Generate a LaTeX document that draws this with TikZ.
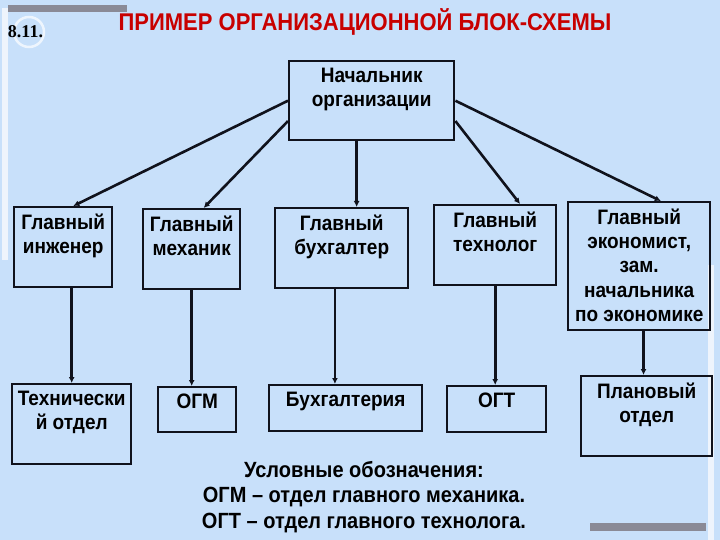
\documentclass[tikz,border=0pt]{standalone}
\usepackage{fontspec}
\setmainfont{Liberation Sans}
\newfontfamily\numfont{Liberation Serif}
\usetikzlibrary{arrows.meta, calc}
\definecolor{ink}{HTML}{10121C}
\definecolor{slide}{HTML}{C8E0FA}
\definecolor{headred}{HTML}{C80000}
\definecolor{bargray}{HTML}{8A8A96}
\definecolor{strip}{HTML}{EEF4FC}

\begin{document}
\begin{tikzpicture}[x=1pt, y=-1pt, font=\bfseries\fontsize{19}{22}\selectfont,
    tall/.style={yscale=1.1, transform shape},
    unit/.style={draw=ink, line width=2.4pt, anchor=north west, inner sep=0pt},
    txt/.style={tall, anchor=north, align=center, inner sep=0pt, yshift=-7pt},
    link/.style={draw=ink, line width=2.6pt, -{Latex[length=6pt,width=6pt]}}]
    \fill[slide](0,0)rectangle(720,540);\useasboundingbox(0,0)rectangle(720,540);
    \fill[strip](2,8)rectangle(8,260);\fill[bargray](8,5)rectangle(127,12);
    \fill[strip](708,265)rectangle(714,540);\fill[bargray](590,523)rectangle(706,531);
    \draw[white,line width=2.5pt,opacity=0.7](29,32)circle[radius=15];
    \node[inner sep=0pt,font=\numfont\bfseries\fontsize{18}{20}\selectfont](num)at(25.5,32){8.11.};
    \node[tall,text=headred,font=\bfseries\fontsize{22}{24}\selectfont](title)at(365,22){ПРИМЕР ОРГАНИЗАЦИОННОЙ БЛОК-СХЕМЫ};

    \node[unit,minimum width=165,minimum height=79,label={[txt]north:{Начальник\\организации}}](boss)at(288,60){};

    \node[unit,minimum width=98,minimum height=80,label={[txt]north:{Главный\\инженер}}](ing)at(13,206){};
    \node[unit,minimum width=97,minimum height=80,label={[txt]north:{Главный\\механик}}](mech)at(142,208){};
    \node[unit,minimum width=133,minimum height=80,label={[txt]north:{Главный\\бухгалтер}}](buh)at(274,207){};
    \node[unit,minimum width=122,minimum height=80,label={[txt]north:{Главный\\технолог}}](teh)at(433,204){};
    \node[unit,minimum width=142,minimum height=128,label={[txt]north:{Главный\\экономист,\\зам.\\начальника\\по экономике}}](econ)at(567,201){};

    \node[unit,minimum width=119,minimum height=80,label={[txt]north:{Технически\\й отдел}}](tech)at(11,383){};
    \node[unit,minimum width=78,minimum height=45,label={[txt]north:{ОГМ}}](ogm)at(157,386){};
    \node[unit,minimum width=153,minimum height=46,label={[txt]north:{Бухгалтерия}}](buhg)at(268,384){};
    \node[unit,minimum width=99,minimum height=46,label={[txt]north:{ОГТ}}](ogt)at(446,385){};
    \node[unit,minimum width=131,minimum height=80,label={[txt]north:{Плановый\\отдел}}](plan)at(580,375){};

    \draw[link](boss.west)--($(ing.north west)!.6!(ing.north east)$);
    \draw[link]($(boss.west)!.5!(boss.south west)$)--($(mech.north west)!.62!(mech.north east)$);
    \draw[link]($(boss.south west)!.41!(boss.south east)$)coordinate(bs)--(bs|-buh.north);
    \draw[link]($(boss.east)!.5!(boss.south east)$)--($(teh.north west)!.7!(teh.north east)$);
    \draw[link](boss.east)--($(econ.north west)!.65!(econ.north east)$);

    \draw[link](ing.south-|tech.north)--(tech.north);
    \draw[link](mech.south)--(mech.south|-ogm.north);
    \draw[link]($(buh.south west)!.45!(buh.south east)$)coordinate(bb)--(bb|-buhg.north);
    \draw[link](teh.south)--(teh.south|-ogt.north);
    \draw[link]($(econ.south west)!.53!(econ.south east)$)coordinate(eb)--(eb|-plan.north);

    \node[tall,align=center,font=\bfseries\fontsize{20}{23}\selectfont](legend)at(364,497){Условные обозначения:\\ОГМ – отдел главного механика.\\ОГТ – отдел главного технолога.};
  \end{tikzpicture}
\end{document}
